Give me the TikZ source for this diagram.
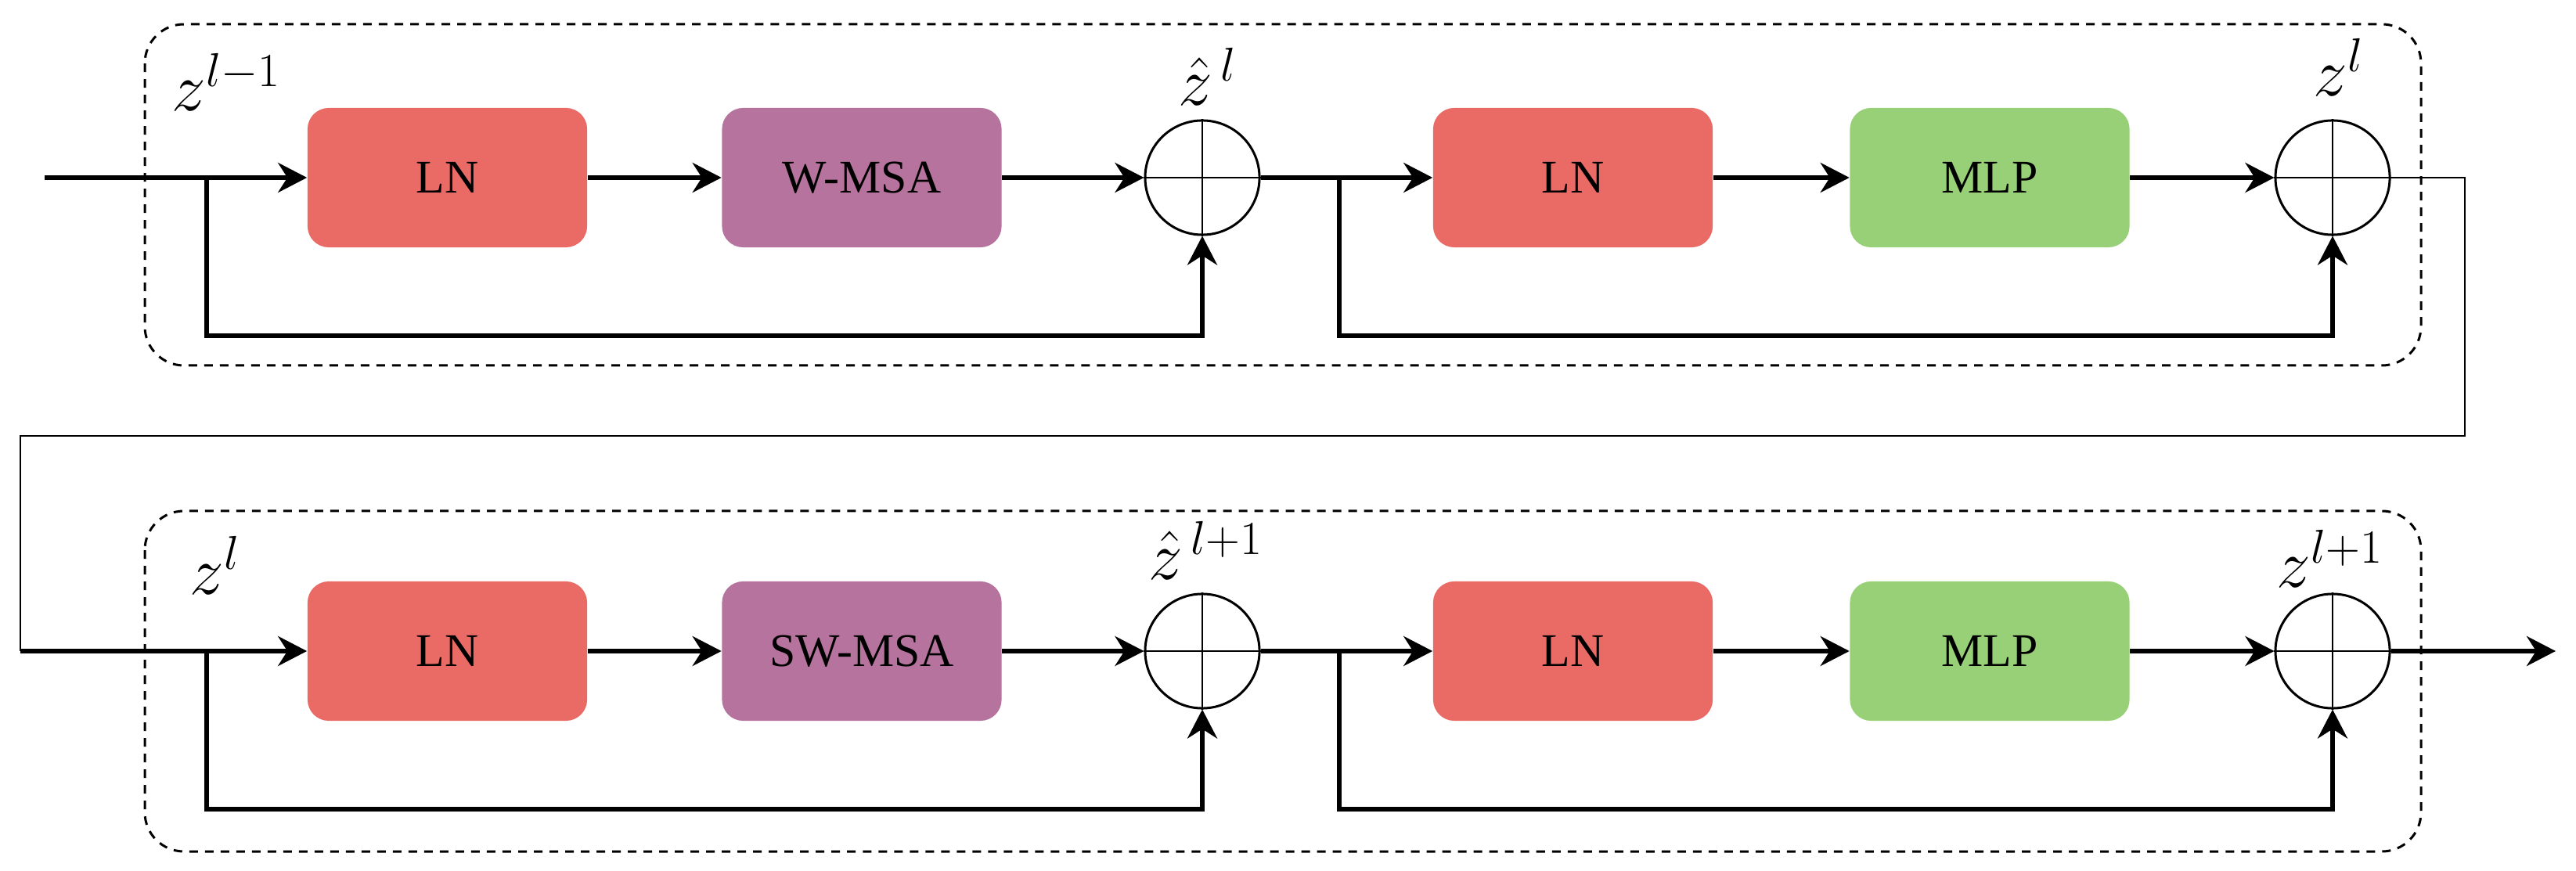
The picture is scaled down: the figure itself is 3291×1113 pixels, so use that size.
\documentclass[tikz,border=0pt]{standalone}
\usepackage{fontspec}
\setmainfont{Liberation Serif}
\usetikzlibrary{arrows.meta}
\definecolor{lnred}{HTML}{EA6B66}
\definecolor{msapurple}{HTML}{B5739D}
\definecolor{mlpgreen}{HTML}{97D077}
\tikzset{
  blk/.style={rounded corners=0.27cm, minimum width=3.57cm, minimum height=1.78cm, inner sep=0pt, font=\fontsize{17}{20}\selectfont},
  sumnode/.style={circle, draw, line width=0.03cm, minimum size=1.46cm, inner sep=0pt},
  thk/.style={line width=0.055cm},
  thn/.style={line width=0.028cm},
  arr/.style={thk, -{Stealth[length=0.37cm, width=0.38cm, inset=0.12cm]}},
  grp/.style={draw, line width=0.03cm, dash pattern=on 0.11cm off 0.09cm, rounded corners=0.5cm},
  lbl/.style={anchor=base west, inner sep=0pt, font=\fontsize{26}{30}\selectfont},
}
\begin{document}
\begin{tikzpicture}[x=0.01cm, y=-0.01cm]
\useasboundingbox (0,0) rectangle (3291,1113);
% group boxes
\draw[grp] (185,31) rectangle (3093,467);
\draw[grp] (185,653) rectangle (3093,1088);
% top row
\coordinate (in1) at (57,227);
\node[blk, fill=lnred] (ln1) at (571.5,227) {LN};
\node[blk, fill=msapurple] (msa1) at (1101,227) {W-MSA};
\node[sumnode] (s1) at (1536,227) {};
\node[blk, fill=lnred] (ln2) at (2009.5,227) {LN};
\node[blk, fill=mlpgreen] (mlp1) at (2542,227) {MLP};
\node[sumnode] (s2) at (2980,227) {};
\coordinate (b1) at (264,227);
\coordinate (b2) at (1711,227);
% bottom row
\coordinate (in2) at (26,832);
\node[blk, fill=lnred] (ln3) at (571.5,832) {LN};
\node[blk, fill=msapurple] (msa2) at (1101,832) {SW-MSA};
\node[sumnode] (s3) at (1536,832) {};
\node[blk, fill=lnred] (ln4) at (2009.5,832) {LN};
\node[blk, fill=mlpgreen] (mlp2) at (2542,832) {MLP};
\node[sumnode] (s4) at (2980,832) {};
\coordinate (b3) at (264,832);
\coordinate (b4) at (1711,832);
\coordinate (out) at (3265,832);
% crosses
\foreach \s in {s1,s2,s3,s4}{
  \draw[thn] (\s.north) -- (\s.south);
  \draw[thn] (\s.west) -- (\s.east);
}
% labels
\node[lbl] (l1) at (219,142) {$z^{l-1}$};
\node[lbl] (l2) at (1505,135) {$\hat{z}^{\,l}$};
\node[lbl] (l3) at (2955,123) {$z^{l}$};
\node[lbl] (l4) at (242,759) {$z^{l}$};
\node[lbl] (l5) at (1467,740) {$\hat{z}^{\,l+1}$};
\node[lbl] (l6) at (2908,751) {$z^{l+1}$};
% top connectors
\draw[arr] (in1) -- (ln1.west);
\draw[arr] (ln1.east) -- (msa1.west);
\draw[arr] (msa1.east) -- (s1.west);
\draw[arr] (s1.east) -- (ln2.west);
\draw[arr] (ln2.east) -- (mlp1.west);
\draw[arr] (mlp1.east) -- (s2.west);
\draw[arr] (b1) -- (264,429) -| (s1.south);
\draw[arr] (b2) -- (1711,429) -| (s2.south);
% link between rows
\draw[thn] (s2.east) -- (3149,227) -- (3149,557) -- (26,557) -- (in2);
% bottom connectors
\draw[arr] (in2) -- (ln3.west);
\draw[arr] (ln3.east) -- (msa2.west);
\draw[arr] (msa2.east) -- (s3.west);
\draw[arr] (s3.east) -- (ln4.west);
\draw[arr] (ln4.east) -- (mlp2.west);
\draw[arr] (mlp2.east) -- (s4.west);
\draw[arr] (s4.east) -- (out);
\draw[arr] (b3) -- (264,1034) -| (s3.south);
\draw[arr] (b4) -- (1711,1034) -| (s4.south);
\end{tikzpicture}
\end{document}
